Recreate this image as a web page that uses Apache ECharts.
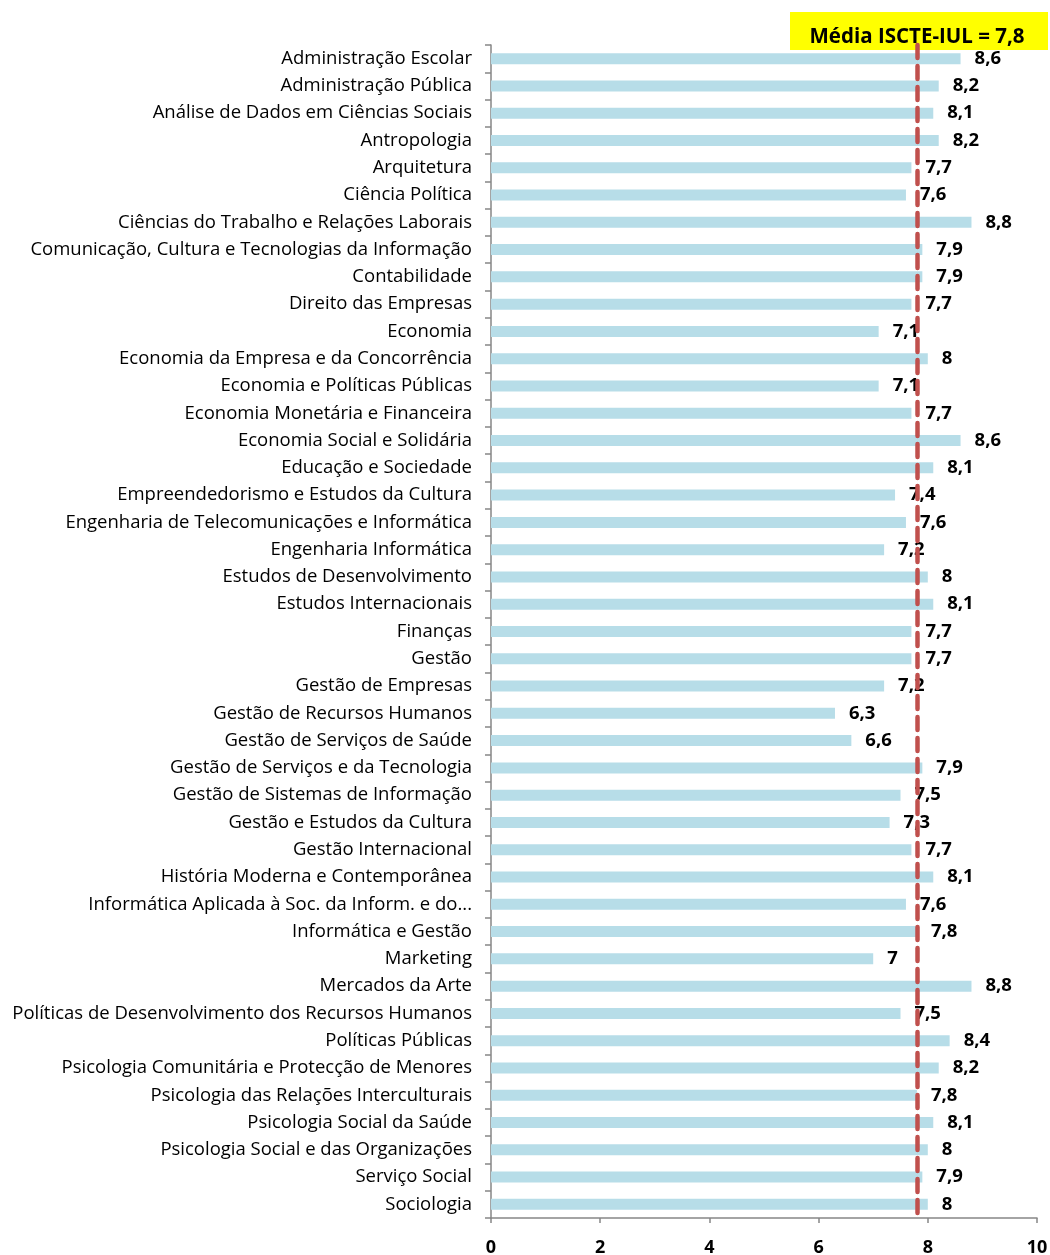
<!DOCTYPE html>
<html lang="pt">
<head>
    <meta charset="UTF-8">
    <title>Média ISCTE-IUL</title>
    <script src="https://cdn.jsdelivr.net/npm/echarts@6/dist/echarts.min.js"></script>
    <style>
        html, body { margin: 0; padding: 0; background: #fff; }
        #main { width: 1050px; height: 1255px; }
    </style>
</head>
<body>
    <div id="main"></div>
    <script>
        var cursos = [
            'Administração Escolar',
            'Administração Pública',
            'Análise de Dados em Ciências Sociais',
            'Antropologia',
            'Arquitetura',
            'Ciência Política',
            'Ciências do Trabalho e Relações Laborais',
            'Comunicação, Cultura e Tecnologias da Informação',
            'Contabilidade',
            'Direito das Empresas',
            'Economia',
            'Economia da Empresa e da Concorrência',
            'Economia e Políticas Públicas',
            'Economia Monetária e Financeira',
            'Economia Social e Solidária',
            'Educação e Sociedade',
            'Empreendedorismo e Estudos da Cultura',
            'Engenharia de Telecomunicações e Informática',
            'Engenharia Informática',
            'Estudos de Desenvolvimento',
            'Estudos Internacionais',
            'Finanças',
            'Gestão',
            'Gestão de Empresas',
            'Gestão de Recursos Humanos',
            'Gestão de Serviços de Saúde',
            'Gestão de Serviços e da Tecnologia',
            'Gestão de Sistemas de Informação',
            'Gestão e Estudos da Cultura',
            'Gestão Internacional',
            'História Moderna e Contemporânea',
            'Informática Aplicada à Soc. da Inform. e do...',
            'Informática e Gestão',
            'Marketing',
            'Mercados da Arte',
            'Políticas de Desenvolvimento dos Recursos Humanos',
            'Políticas Públicas',
            'Psicologia Comunitária e Protecção de Menores',
            'Psicologia das Relações Interculturais',
            'Psicologia Social da Saúde',
            'Psicologia Social e das Organizações',
            'Serviço Social',
            'Sociologia'
        ];
        var medias = [
            8.6, 8.2, 8.1, 8.2, 7.7, 7.6, 8.8, 7.9, 7.9, 7.7,
            7.1, 8, 7.1, 7.7, 8.6, 8.1, 7.4, 7.6, 7.2, 8,
            8.1, 7.7, 7.7, 7.2, 6.3, 6.6, 7.9, 7.5, 7.3, 7.7,
            8.1, 7.6, 7.8, 7, 8.8, 7.5, 8.4, 8.2, 7.8, 8.1,
            8, 7.9, 8
        ];
        var mediaGeral = 7.8;
        var ticksX = [0, 2, 4, 6, 8, 10];

        var fonte = '"Open Sans", "Noto Sans", sans-serif';
        var virgula = function (v) { return String(v).replace('.', ','); };

        var myChart = echarts.init(document.getElementById('main'));
        myChart.setOption({
            animation: false,
            grid: { left: 491, right: 13, top: 45, bottom: 37, outerBoundsMode: 'none' },
            xAxis: {
                type: 'value',
                min: ticksX[0],
                max: ticksX[ticksX.length - 1],
                interval: 2,
                axisLine: { show: true, lineStyle: { color: '#868686', width: 1.5 } },
                axisTick: { show: true, length: 5, lineStyle: { color: '#868686', width: 1.5 } },
                splitLine: { show: false },
                axisLabel: {
                    margin: 21,
                    color: '#000',
                    fontFamily: fonte,
                    fontWeight: 'bold',
                    fontSize: 18
                }
            },
            yAxis: {
                type: 'category',
                data: cursos,
                inverse: true,
                axisLine: { show: true, lineStyle: { color: '#868686', width: 1.5 } },
                axisTick: { show: true, length: 6, lineStyle: { color: '#868686', width: 1.5 } },
                axisLabel: {
                    margin: 19,
                    color: '#000',
                    fontFamily: fonte,
                    fontSize: 18.5,
                    padding: [5, 0, 0, 0]
                }
            },
            series: [{
                type: 'bar',
                data: medias,
                barWidth: 11,
                itemStyle: { color: '#B7DDE8' },
                label: {
                    show: true,
                    position: 'right',
                    distance: 14,
                    color: '#000',
                    fontFamily: fonte,
                    fontWeight: 'bold',
                    fontSize: 18.5,
                    padding: [6, 0, 0, 0],
                    formatter: function (p) { return virgula(p.value); }
                },
                markLine: {
                    silent: true,
                    symbol: 'none',
                    label: { show: false },
                    lineStyle: {
                        color: '#C0504D',
                        width: 4.5,
                        type: [13, 8],
                        cap: 'round'
                    },
                    data: [{ xAxis: mediaGeral }]
                }
            }],
            graphic: [{
                type: 'group',
                left: 790,
                top: 12,
                children: [{
                    type: 'rect',
                    shape: { x: 0, y: 0, width: 258, height: 38 },
                    style: { fill: '#FFFF00' }
                }, {
                    type: 'text',
                    x: 127,
                    y: 25,
                    style: {
                        text: 'Média ISCTE-IUL = ' + virgula(mediaGeral),
                        fill: '#000',
                        font: 'bold 20.5px ' + fonte,
                        align: 'center',
                        verticalAlign: 'middle'
                    }
                }]
            }]
        });
    </script>
</body>
</html>
